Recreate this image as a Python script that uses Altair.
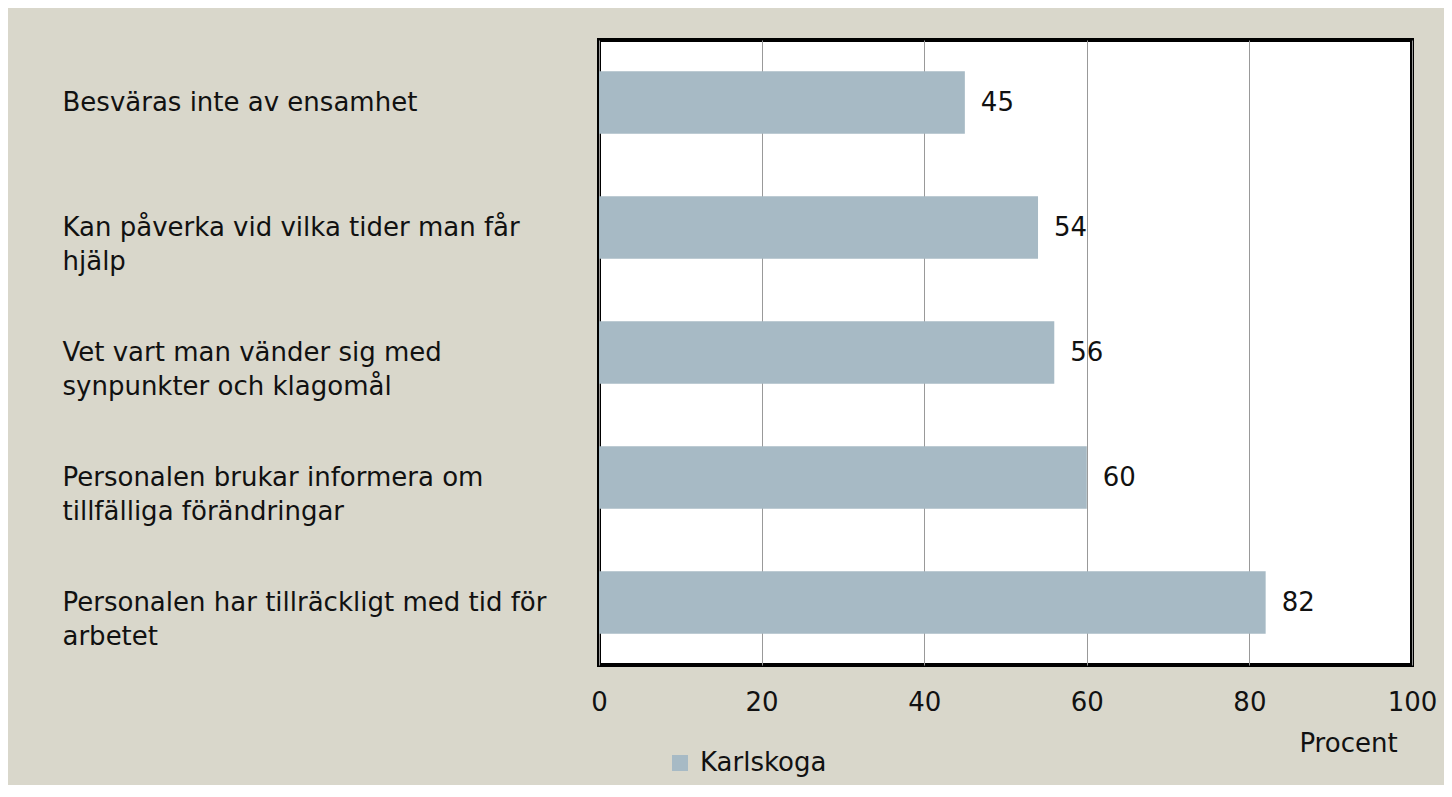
import altair as alt
import pandas as pd

categories = [
    "Besväras inte av ensamhet",
    "Kan påverka vid vilka tider man får|hjälp",
    "Vet vart man vänder sig med|synpunkter och klagomål",
    "Personalen brukar informera om|tillfälliga förändringar",
    "Personalen har tillräckligt med tid för|arbetet",
]
values = [45, 54, 56, 60, 82]
series = ["Karlskoga"] * 5
x_ticks = [0, 20, 40, 60, 80, 100]

df = pd.DataFrame({"kategori": categories, "procent": values, "serie": series})

FONT = "DejaVu Sans"
BAR = "#A7BAC5"

y_enc = alt.Y(
    "kategori:N",
    sort=categories,
    scale=alt.Scale(paddingInner=0.5, paddingOuter=0.25),
    axis=alt.Axis(
        title=None,
        labelExpr="split(datum.label, '|')",
        labelAlign="left",
        labelBaseline="middle",
        labelPadding=537,
        labelLimit=560,
        labelFont=FONT,
        labelFontSize=26,
        labelLineHeight=34,
        labelColor="#111111",
        ticks=False,
        tickSize=0,
        domain=False,
        grid=False,
    ),
)

x_enc = alt.X(
    "procent:Q",
    scale=alt.Scale(domain=[0, 100], nice=False),
    axis=alt.Axis(
        values=x_ticks,
        title="Procent",
        titleFont=FONT,
        titleFontSize=26,
        titleFontWeight="normal",
        titleColor="#111111",
        titleAlign="center",
        titleBaseline="middle",
        titleX=749,
        titleY=78,
        labelFont=FONT,
        labelFontSize=26,
        labelColor="#111111",
        labelPadding=24,
        labelBaseline="top",
        labelFlush=False,
        ticks=False,
        tickSize=0,
        domain=False,
        grid=True,
        gridColor="#999999",
        gridWidth=1,
        gridOpacity=1,
    ),
)

bars = alt.Chart(df).mark_bar(opacity=1).encode(
    x=x_enc,
    y=y_enc,
    color=alt.Color(
        "serie:N",
        scale=alt.Scale(range=[BAR]),
        legend=alt.Legend(
            title=None,
            orient="none",
            legendX=68,
            legendY=710,
            symbolType="square",
            symbolSize=256,
            symbolStrokeWidth=0,
            symbolOpacity=1,
            labelFont=FONT,
            labelFontSize=26,
            labelColor="#111111",
            labelOffset=7,
            padding=0,
        ),
    ),
)

text = alt.Chart(df).mark_text(
    align="left", baseline="middle", dx=16, font=FONT, fontSize=26, color="#111111"
).encode(
    x=alt.X("procent:Q"),
    y=alt.Y("kategori:N", sort=categories),
    text=alt.Text("procent:Q"),
)

chart = (
    alt.layer(bars, text)
    .properties(
        width=813,
        height=625,
        padding={"left": 591, "top": 32, "right": 32, "bottom": 120},
        autosize=alt.AutoSizeParams(type="none"),
        background="#D9D7CB",
    )
    .configure_view(fill="white", stroke="black", strokeWidth=4)
)

chart.save("out.html", embed_options={"renderer": "svg", "actions": False})
